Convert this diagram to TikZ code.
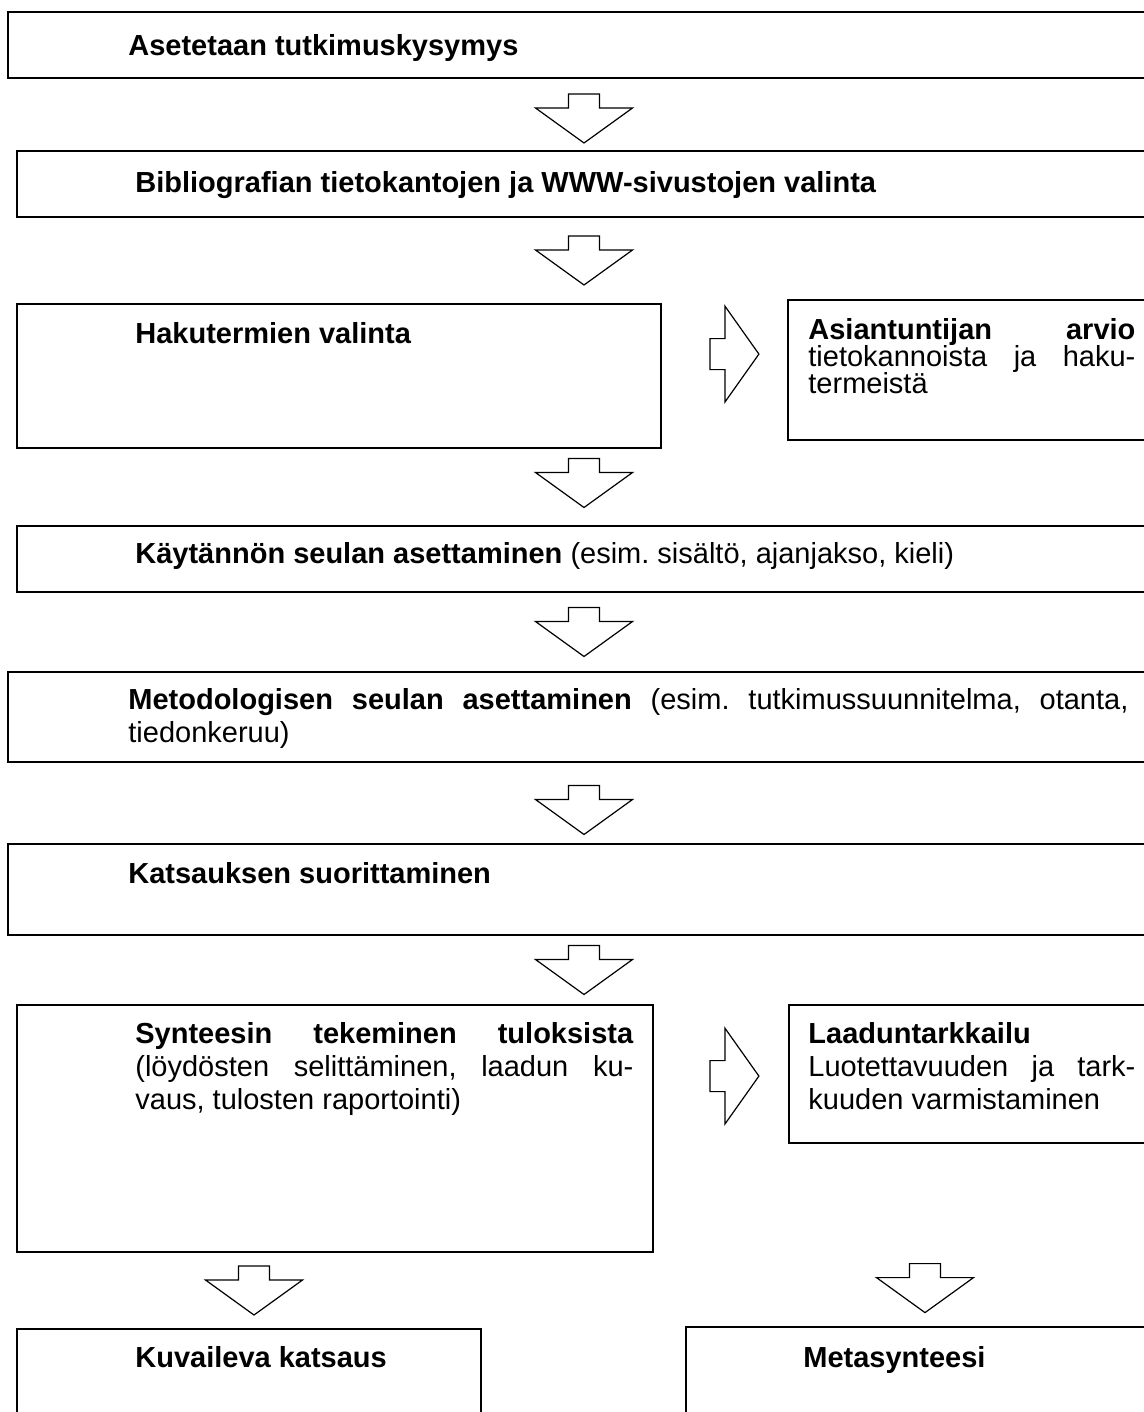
\documentclass[tikz,border=0pt]{standalone}
\usepackage{fontspec}
\setmainfont{Liberation Sans}
\usetikzlibrary{fit,calc}

\begin{document}
\frenchspacing
\begin{tikzpicture}[x=0.5pt,y=-0.5pt]

    \tikzset{
      box/.style={
        draw,
        line width=0.9pt,
        inner sep=0pt,
      },
      txt/.style={
        anchor=base west,
        inner sep=0pt,
        font=\fontsize{14.5pt}{16.5pt}\selectfont\hyphenpenalty10000\relax,
      },
      justtxt/.style={
        txt,
        align=justify,
        text width=#1,
      },
      downarr/.pic={
        \draw[line width=0.6pt,fill=white] (-15.5,-24.5)--(15.5,-24.5)--(15.5,-10.5)--(48.5,-10.5)--(0,24.5)--(-48.5,-10.5)--(-15.5,-10.5)--cycle;
      },
      rightarr/.pic={
        \draw[line width=0.6pt,fill=white] (0,-15.5)--(15,-15.5)--(15,-48)--(49,0)--(15,48)--(15,15.5)--(0,15.5)--cycle;
      },
    }
    \path[use as bounding box,clip] (0,0) rectangle (1144,1412);

	\node[box,fit={(8,12) (1160,78)}] (kysymys) {};
	\node[box,fit={(17,151) (1151,217)}] (tietokannat) {};
	\node[box,fit={(17,304) (661,448)}] (hakutermit) {};
	\node[box,fit={(788,300) (1165,440)}] (asiantuntija) {};
	\node[box,fit={(17,526) (1151,592)}] (kaytanto) {};
	\node[box,fit={(8,672) (1160,762)}] (metodi) {};
	\node[box,fit={(8,844) (1160,935)}] (katsaus) {};
	\node[box,fit={(17,1005) (653,1252)}] (synteesi) {};
	\node[box,fit={(789,1005) (1165,1143)}] (laatu) {};
	\node[box,fit={(17,1329) (481,1430)}] (kuvaileva) {};
	\node[box,fit={(686,1327) (1164,1430)}] (meta) {};

	\node[txt] (t1) at (128,56) {\bfseries Asetetaan tutkimuskysymys};
	\node[txt] (t2) at (135,193) {\bfseries Bibliografian tietokantojen ja WWW-sivustojen valinta};
	\node[txt] (t3) at (135,343) {\bfseries Hakutermien valinta};
	\node[justtxt=163.5pt,font=\fontsize{14.5pt}{13.7pt}\selectfont\lineskiplimit-20pt\relax] (t4) at (808,339)
	  {\textbf{Asiantuntijan arvio}\linebreak tietokannoista ja haku-\linebreak termeistä};
	\node[txt] (t5) at (135,563) {\textbf{Käytännön seulan asettaminen} (esim. sisältö, ajanjakso, kieli)};
	\node[justtxt=500pt] (t6) at (128,709)
	  {\textbf{Metodologisen seulan asettaminen} (esim. tutkimussuunnitelma, otanta,\linebreak tiedonkeruu)};
	\node[txt] (t7) at (128,883) {\bfseries Katsauksen suorittaminen};
	\node[justtxt=249pt] (t8) at (135,1043)
	  {\textbf{Synteesin tekeminen tuloksista}\linebreak (löydösten selittäminen, laadun ku-\linebreak vaus, tulosten raportointi)};
	\node[justtxt=163.5pt] (t9) at (808,1043)
	  {\textbf{Laaduntarkkailu}\\ Luotettavuuden ja tark-\linebreak kuuden varmistaminen};
	\node[txt] (t10) at (135,1367) {\bfseries Kuvaileva katsaus};
	\node[txt] (t11) at (803,1367) {\bfseries Metasynteesi};

	\pic at ($(kysymys.south)!0.5!(tietokannat.north)+(0,4)$) {downarr};
	\pic at ($(tietokannat.south)!0.5!(tietokannat.south |- hakutermit.north)$) {downarr};
	\pic at ($(hakutermit.north east)+(48,51)$) {rightarr};
	\pic at ($(kaytanto.north)!0.5!(kaytanto.north |- hakutermit.south)+(0,-4)$) {downarr};
	\pic at ($(kaytanto.south)!0.5!(metodi.north)$) {downarr};
	\pic at ($(metodi.south)!0.5!(katsaus.north)+(0,7)$) {downarr};
	\pic at ($(katsaus.south)!0.5!(katsaus.south |- synteesi.north)$) {downarr};
	\pic at ($(synteesi.north east)+(56,72)$) {rightarr};
	\pic at ($(kuvaileva.north)!0.5!(kuvaileva.north |- synteesi.south)+(5,0)$) {downarr};
	\pic at ($(meta.north)+(0,-38)$) {downarr};

\end{tikzpicture}
\end{document}
